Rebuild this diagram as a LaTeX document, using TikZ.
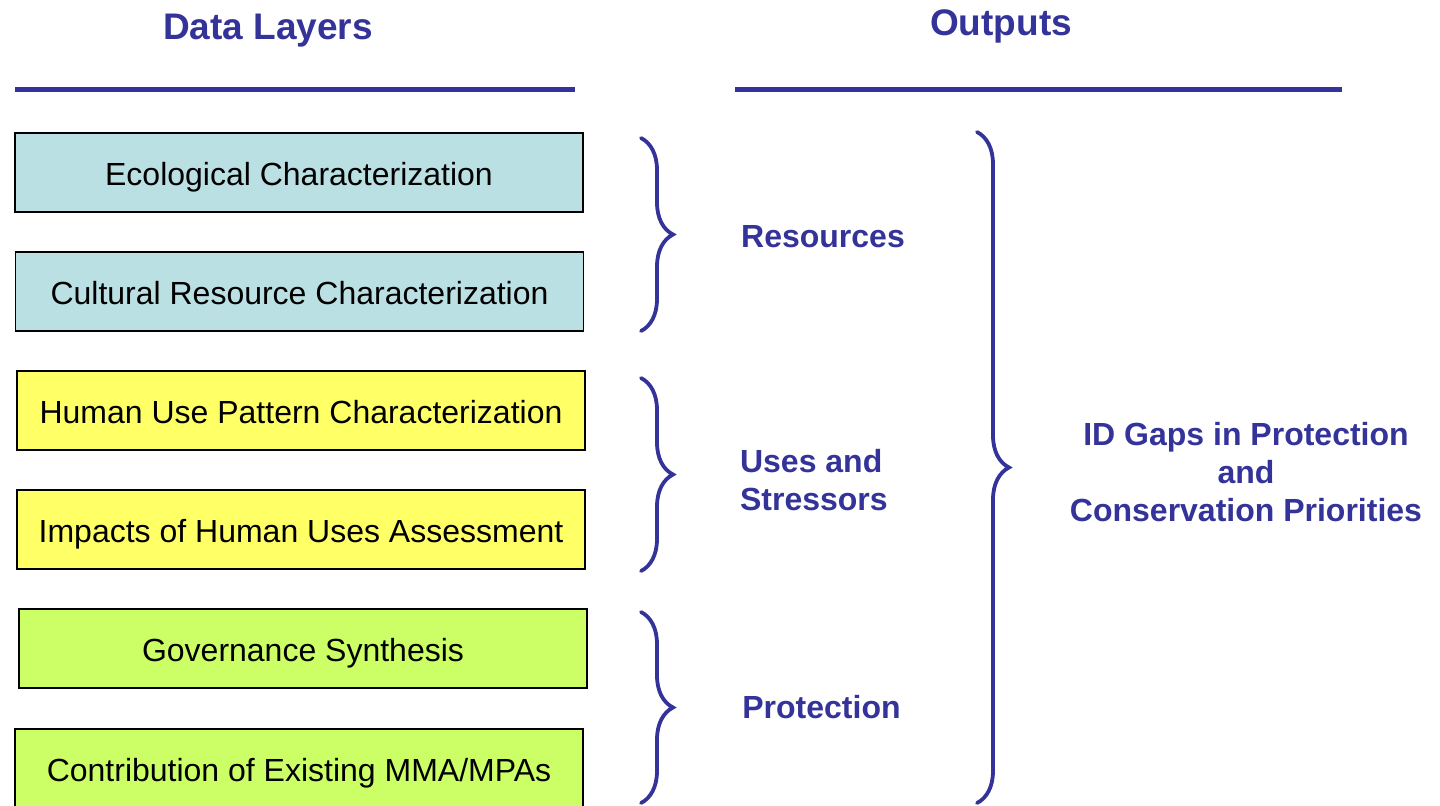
\documentclass[tikz,border=0pt]{standalone}
\usepackage{fontspec}
\setmainfont{Liberation Sans}
\usetikzlibrary{decorations.pathreplacing}

\definecolor{hdrblue}{HTML}{333399}
\definecolor{ecocyan}{HTML}{BBE0E3}
\definecolor{useyellow}{HTML}{FFFF66}
\definecolor{govgreen}{HTML}{CCFF66}

\tikzset{
  databox/.style={draw=black, line width=0.8pt, minimum width=284pt,
    minimum height=39.5pt, inner sep=0pt, text height=13pt, text depth=0pt,
    font=\fontsize{16}{19}\selectfont},
  hdr/.style={text=hdrblue, font=\bfseries\fontsize{18.5}{22}\selectfont},
  outlabel/.style={text=hdrblue, font=\bfseries\fontsize{16}{19}\selectfont},
  rule/.style={draw=hdrblue, line width=2.5pt},
  outbrace/.style={draw=hdrblue, line width=1.9pt, line cap=round,
    decorate, decoration={brace, amplitude=16pt}}
}

\begin{document}
\begin{tikzpicture}[x=0.5pt, y=-0.5pt]
        \useasboundingbox (0,0) rectangle (1440,805);
        % headers
        \node[hdr] (datahdr) at (268,31) {Data Layers};
        \node[hdr] (outhdr) at (1001,26) {Outputs};
        \draw[rule] (15,89) -- (575,89);
        \draw[rule] (735,89) -- (1342,89);
        % data layers
        \node[databox, fill=ecocyan] (eco) at (299,172.5) {Ecological Characterization};
        \node[databox, fill=ecocyan] (cult) at (299.5,291.5) {Cultural Resource Characterization};
        \node[databox, fill=useyellow] (human) at (301,410.5) {Human Use Pattern Characterization};
        \node[databox, fill=useyellow] (impacts) at (301,529.5) {Impacts of Human Uses Assessment};
        \node[databox, fill=govgreen] (gov) at (303,648.5) {Governance Synthesis};
        \node[databox, fill=govgreen] (contrib) at (299,768.5) {Contribution of Existing MMA/MPAs};
        % braces
        \coordinate (restop) at (641,138);
        \coordinate (resbot) at (641,331);
        \coordinate (usetop) at (641,378);
        \coordinate (usebot) at (641,571);
        \coordinate (prottop) at (641,612);
        \coordinate (protbot) at (641,803);
        \coordinate (gaptop) at (977,132);
        \coordinate (gapbot) at (977,803);
        \draw[outbrace] (restop) -- (resbot);
        \draw[outbrace] (usetop) -- (usebot);
        \draw[outbrace] (prottop) -- (protbot);
        \draw[outbrace] (gaptop) -- (gapbot);
        % outputs
        \node[outlabel] (res) at (823,237) {Resources};
        \node[outlabel, anchor=west, align=left] (uses) at (733,480) {Uses and\\Stressors};
        \node[outlabel] (prot) at (821.5,707) {Protection};
        \node[outlabel, align=center] (gaps) at (1246,472) {ID Gaps in Protection\\and\\Conservation Priorities};
    \end{tikzpicture}
\end{document}
